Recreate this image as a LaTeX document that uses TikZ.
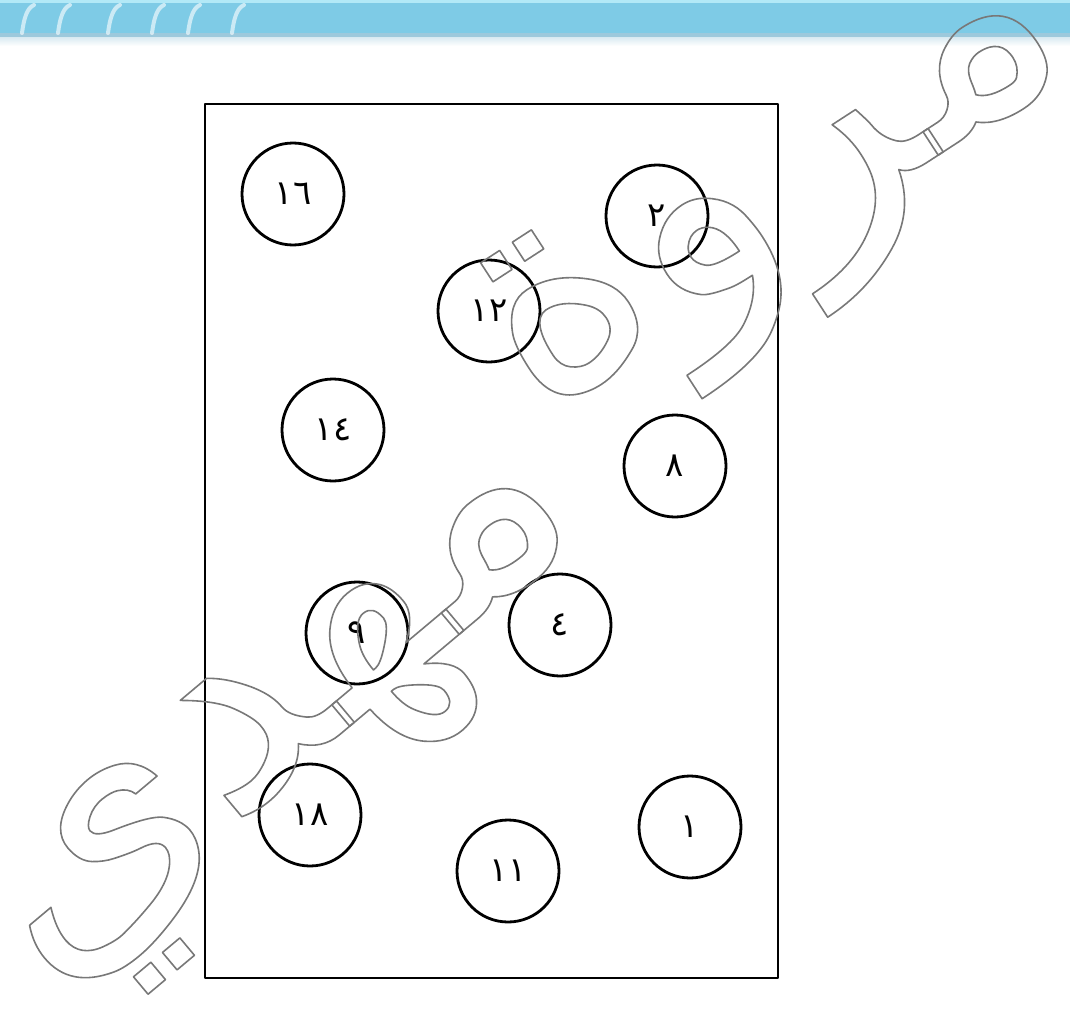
\documentclass[tikz,border=0pt]{standalone}
\usepackage{fontspec}
\newfontfamily\arabicfont[Script=Arabic]{DejaVu Sans}
\TeXXeTstate=1
\usetikzlibrary{positioning}
\definecolor{band-blue}{HTML}{7ECBE6}
\definecolor{band-top}{HTML}{B2E9F7}
\definecolor{band-edge}{HTML}{9DC9DC}
\newcommand{\hollowtext}[1]{\special{pdf:literal direct 1 Tr 1.6 w 0.47 0.47 0.47 RG}#1\special{pdf:literal direct 0 Tr}}

\begin{document}
\begin{tikzpicture}[x=1pt, y=-1pt, line join=round,
  disc/.style={circle, draw, line width=2.8pt, minimum size=102pt, inner sep=0pt,
    font=\arabicfont\fontsize{34}{34}\selectfont},
  wmark/.style={inner sep=0pt, font=\arabicfont\fontsize{310}{310}\selectfont}]
  \useasboundingbox (0,0) rectangle (1070,1014);
  % banner
  \fill[band-top] (0,0) rectangle (1070,4);
  \fill[band-blue] (0,3) rectangle (1070,33);
  \fill[band-edge] (0,33) rectangle (1070,38);
  \shade[top color=band-edge!35, bottom color=white] (0,38) rectangle (1070,46);
  \foreach \x in {22,58,108,152,188,232}
    \draw[white, opacity=0.6, line width=4pt, line cap=round]
      (\x,33) .. controls (\x+2,18) and (\x+5,8) .. (\x+12,5);
  % frame
  \draw[line width=2.8pt] (205,104) rectangle (778,978);
  % circles
  \node[disc] (n16) at (293,194) {١٦};
  \node[disc] (n2)  at (657,216) {٢};
  \node[disc] (n12) at (489,311) {١٢};
  \node[disc] (n14) at (333,430) {١٤};
  \node[disc] (n8)  at (675,466) {٨};
  \node[disc] (n9)  at (357,633) {٩};
  \node[disc] (n4)  at (560,625) {٤};
  \node[disc] (n18) at (310,815) {١٨};
  \node[disc] (n11) at (508,871) {١١};
  \node[disc] (n1)  at (690,827) {١};
  % watermark
  \node[wmark, rotate=33] (wm-top) at (785,205) {\hollowtext{\beginR مروة\endR}};
  \node[wmark, rotate=40] (wm-bottom) at (298,735) {\hollowtext{\beginR مهدي\endR}};
\end{tikzpicture}
\end{document}
